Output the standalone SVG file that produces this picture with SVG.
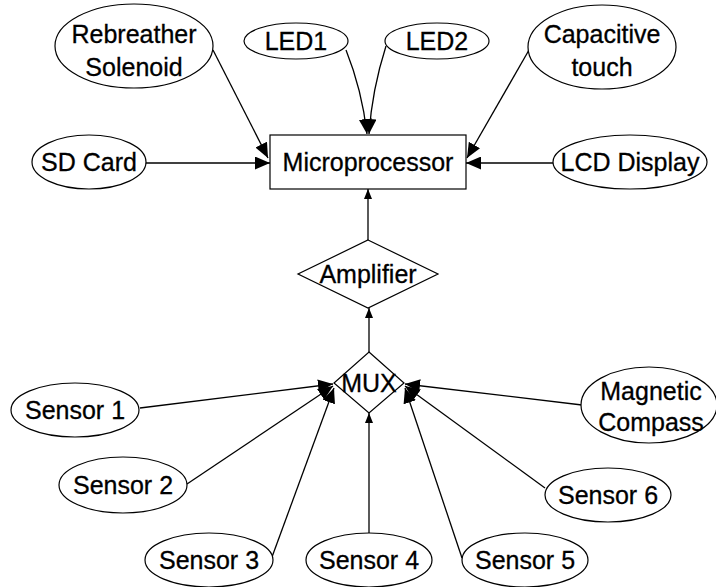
<svg xmlns="http://www.w3.org/2000/svg" width="716" height="587" viewBox="0 0 716 587">
  <style>
    .node ellipse, .node rect, .node polygon { fill: #ffffff; stroke: #000000; stroke-width: 1.2; }
    .node text { font-family: "Liberation Sans", Arial, sans-serif; font-size: 25px; fill: #000000; stroke: #000000; stroke-width: 0.3; text-anchor: middle; }
    .edge { fill: none; stroke: #000000; stroke-width: 1.3; }
    .big { marker-end: url(#head); }
    .small { marker-end: url(#headSmall); }
  </style>
  <defs>
    <marker id="head" viewBox="0 0 15 13" refX="15" refY="6.5" markerWidth="15" markerHeight="13" markerUnits="userSpaceOnUse" orient="auto">
      <path d="M0,0 L15,6.5 L0,13 Z" fill="#000000"/>
    </marker>
    <marker id="headSmall" viewBox="0 0 10 8" refX="10" refY="4" markerWidth="10" markerHeight="8" markerUnits="userSpaceOnUse" orient="auto">
      <path d="M0,0 L10,4 L0,8 Z" fill="#000000"/>
    </marker>
  </defs>

  <rect width="716" height="587" fill="#ffffff"/>

  <!-- connectors -->
  <g id="connectors">
    <path class="edge big" d="M213,50 L268,158"/>
    <path class="edge big" d="M346,50 Q362,90 367,134"/>
    <path class="edge big" d="M386,46 Q372,90 369,134"/>
    <path class="edge big" d="M529,50 L467,158"/>
    <path class="edge big" d="M145,163 L270,163"/>
    <path class="edge big" d="M553,163 L466,163"/>
    <path class="edge small" d="M368,240 L368,189"/>
    <path class="edge small" d="M369,352 L369,308"/>
    <path class="edge big" d="M140,408 L333,384"/>
    <path class="edge big" d="M187,484 L333,386"/>
    <path class="edge big" d="M272,557 L334,388"/>
    <path class="edge small" d="M369,533 L369,413"/>
    <path class="edge big" d="M462,558 L405,388"/>
    <path class="edge big" d="M545,488 L405,386"/>
    <path class="edge big" d="M582,405 L405,384"/>
  </g>

  <g id="rebreather" class="node">
    <ellipse cx="134" cy="46" rx="79" ry="42"/>
    <text x="134" y="43">Rebreather</text>
    <text x="134" y="76">Solenoid</text>
  </g>
  <g id="led1" class="node">
    <ellipse cx="296" cy="41" rx="52" ry="18"/>
    <text x="296" y="50">LED1</text>
  </g>
  <g id="led2" class="node">
    <ellipse cx="437" cy="41" rx="52" ry="18"/>
    <text x="437" y="50">LED2</text>
  </g>
  <g id="capacitive" class="node">
    <ellipse cx="602" cy="47" rx="74" ry="42"/>
    <text x="602" y="43">Capacitive</text>
    <text x="602" y="76">touch</text>
  </g>
  <g id="sdcard" class="node">
    <ellipse cx="89" cy="162" rx="57" ry="27"/>
    <text x="89" y="171">SD Card</text>
  </g>
  <g id="microprocessor" class="node">
    <rect x="270" y="135" width="196" height="54"/>
    <text x="368" y="171">Microprocessor</text>
  </g>
  <g id="lcd" class="node">
    <ellipse cx="630" cy="162" rx="77" ry="27"/>
    <text x="630" y="171">LCD Display</text>
  </g>
  <g id="amplifier" class="node">
    <polygon points="368,240 438,274 368,308 298,274"/>
    <text x="368" y="283">Amplifier</text>
  </g>
  <g id="mux" class="node">
    <polygon points="369,352 404,383 369,413 334,383"/>
    <text x="369" y="392">MUX</text>
  </g>
  <g id="sensor1" class="node">
    <ellipse cx="75" cy="410" rx="64" ry="27"/>
    <text x="75" y="419">Sensor 1</text>
  </g>
  <g id="sensor2" class="node">
    <ellipse cx="123" cy="485" rx="64" ry="28"/>
    <text x="123" y="494">Sensor 2</text>
  </g>
  <g id="sensor3" class="node">
    <ellipse cx="209" cy="560" rx="64" ry="27"/>
    <text x="209" y="569">Sensor 3</text>
  </g>
  <g id="sensor4" class="node">
    <ellipse cx="369" cy="560" rx="63" ry="27"/>
    <text x="369" y="569">Sensor 4</text>
  </g>
  <g id="sensor5" class="node">
    <ellipse cx="525" cy="560" rx="63" ry="27"/>
    <text x="525" y="569">Sensor 5</text>
  </g>
  <g id="sensor6" class="node">
    <ellipse cx="608" cy="495" rx="63" ry="27"/>
    <text x="608" y="504">Sensor 6</text>
  </g>
  <g id="compass" class="node">
    <ellipse cx="649" cy="405" rx="68" ry="38"/>
    <text x="651" y="400">Magnetic</text>
    <text x="651" y="431">Compass</text>
  </g>
</svg>
